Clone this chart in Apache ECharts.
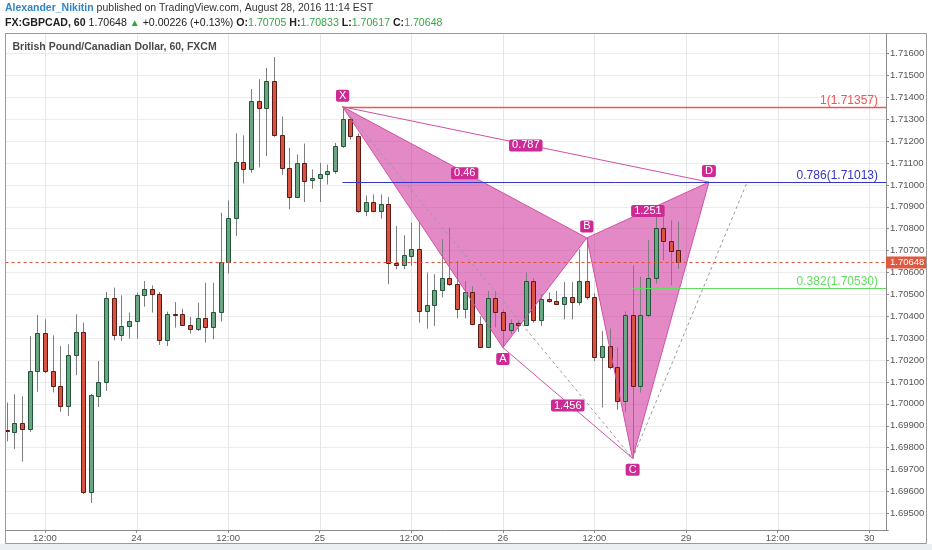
<!DOCTYPE html>
<html><head><meta charset="utf-8">
<script src="https://cdn.jsdelivr.net/npm/echarts@6/dist/echarts.min.js"></script>
<style>html,body{margin:0;padding:0;background:#fff;}#c{width:932px;height:550px;}</style>
</head><body><div id="c"></div>
<script>
// ---- data (hourly candles, GBPCAD 60) ----
const opens = [1.69882,1.69872,1.69912,1.69885,1.70148, 1.70322,1.70152,1.70082,1.69991,1.70221,
 1.70328,1.69596,1.70038,1.70102,1.70485, 1.70315,1.70354,1.70380,1.70497,1.70523,
 1.70500,1.70290,1.70412,1.70409,1.70358, 1.70341,1.70394,1.70353,1.70421,1.70648,
 1.70847,1.71106,1.71071,1.71385,1.71353, 1.71476,1.71226,1.71077,1.70944,1.71101,
 1.71022,1.71030,1.71051,1.71065,1.71180, 1.71302,1.71225,1.70880,1.70922,1.70880,
 1.70911,1.70642,1.70636,1.70675,1.70706, 1.70424,1.70450,1.70519,1.70577,1.70546,
 1.70435,1.70511,1.70367,1.70260,1.70482, 1.70420,1.70337,1.70371,1.70359,1.70561,
 1.70383,1.70481,1.70470,1.70455,1.70490, 1.70466,1.70561,1.70489,1.70216,1.70264,
 1.70169,1.70011,1.70405,1.70082,1.70405, 1.70576,1.70804,1.70743,1.70705];
const highs = [1.70006,1.70044,1.70034,1.70310,1.70406, 1.70386,1.70313,1.70264,1.70272,1.70409,
 1.70371,1.70045,1.70196,1.70511,1.70531, 1.70496,1.70417,1.70508,1.70561,1.70541,
 1.70511,1.70421,1.70465,1.70435,1.70397, 1.70462,1.70554,1.70554,1.70873,1.70929,
 1.71235,1.71226,1.71438,1.71483,1.71535, 1.71584,1.71312,1.71170,1.71139,1.71189,
 1.71071,1.71101,1.71093,1.71192,1.71357, 1.71312,1.71235,1.70952,1.70957,1.70957,
 1.70946,1.70812,1.70770,1.70828,1.70828, 1.70600,1.70592,1.70752,1.70805,1.70653,
 1.70561,1.70538,1.70401,1.70516,1.70516, 1.70430,1.70386,1.70379,1.70600,1.70573,
 1.70500,1.70508,1.70516,1.70557,1.70557, 1.70706,1.70758,1.70505,1.70333,1.70344,
 1.70257,1.70422,1.70633,1.70580,1.70748, 1.70854,1.70854,1.70839,1.70833];
const lows = [1.69829,1.69794,1.69736,1.69872,1.70055, 1.70140,1.70052,1.69964,1.69945,1.70131,
 1.69588,1.69547,1.69986,1.70059,1.70290, 1.70287,1.70298,1.70298,1.70444,1.70417,
 1.70269,1.70264,1.70348,1.70356,1.70321, 1.70333,1.70280,1.70295,1.70376,1.70595,
 1.70767,1.71007,1.71056,1.71080,1.71132, 1.71220,1.71046,1.70889,1.70940,1.70922,
 1.70983,1.70922,1.71002,1.71051,1.71170, 1.71207,1.70873,1.70858,1.70875,1.70846,
 1.70546,1.70615,1.70615,1.70630,1.70371, 1.70344,1.70356,1.70486,1.70538,1.70390,
 1.70390,1.70359,1.70260,1.70262,1.70349, 1.70257,1.70318,1.70329,1.70355,1.70371,
 1.70356,1.70462,1.70455,1.70386,1.70386, 1.70450,1.70477,1.70196,1.69984,1.70158,
 1.69973,1.69962,1.69751,1.70052,1.70395, 1.70550,1.70656,1.70542,1.70617];
const closes = [1.69876,1.69912,1.69885,1.70148,1.70322, 1.70152,1.70082,1.69991,1.70221,1.70328,
 1.69596,1.70040,1.70102,1.70485,1.70315, 1.70354,1.70380,1.70497,1.70523,1.70500,
 1.70290,1.70412,1.70408,1.70358,1.70341, 1.70394,1.70353,1.70421,1.70648,1.70847,
 1.71106,1.71071,1.71385,1.71353,1.71476, 1.71226,1.71077,1.70944,1.71101,1.71017,
 1.71033,1.71051,1.71065,1.71180,1.71302, 1.71225,1.70880,1.70922,1.70880,1.70914,
 1.70642,1.70636,1.70678,1.70706,1.70424, 1.70450,1.70519,1.70577,1.70546,1.70432,
 1.70511,1.70367,1.70260,1.70482,1.70420, 1.70337,1.70371,1.70359,1.70561,1.70383,
 1.70481,1.70470,1.70455,1.70490,1.70466, 1.70561,1.70489,1.70216,1.70264,1.70169,
 1.70011,1.70405,1.70082,1.70405,1.70576, 1.70804,1.70743,1.70699,1.70648];

// x axis: hourly slots, tick labels every 12 slots
const slotCount = 116;
const firstTickSlot = 5;
const tickStep = 12;
const tickLabels = ['12:00','24','12:00','25','12:00','26','12:00','29','12:00','30'];

// XABCD pattern (slot index, price)
const patternNames = ['X','A','B','C','D'];
const patternSlots = [44, 65, 76, 82, 92];
const patternPrices = [1.71357, 1.70257, 1.70758, 1.69751, 1.71013];
const ratioLabels = {XB:'0.46', XD:'0.787', AC:'1.456', BD:'1.251'};
const projEnd = [97, 1.71013];

// horizontal levels
const levelPrices = [1.71357, 1.71013, 1.70530];
const levelTexts = ['1(1.71357)', '0.786(1.71013)', '0.382(1.70530)'];
const levelStartSlots = [44, 44, 82];
const lastPrice = 1.70648;

// header
const author = 'Alexander_Nikitin';
const published = ' published on TradingView.com, August 28, 2016 11:14 EST';
const symbolTxt = 'FX:GBPCAD, 60';
const chgTxt = ' +0.00226 (+0.13%) ';
const ohlcLast = {O:'1.70705', H:'1.70833', L:'1.70617', C:'1.70648'};
const chartTitle = 'British Pound/Canadian Dollar, 60, FXCM';

// ---- styles ----
const levelColors = ['#f05454', '#3434c8', '#62dc62'];
const PAT = '#cc2a95';
const Y_OFF = -2.3;
const FONT = '"Liberation Sans", Arial, sans-serif';

const slots = [];
for (let i = 0; i < slotCount; i++) slots.push('s' + i);
function isTick(i) { return i >= firstTickSlot && (i - firstTickSlot) % tickStep === 0; }
function tickText(i) { return isTick(i) ? (tickLabels[(i - firstTickSlot) / tickStep] || '') : ''; }
const tickSlots = [];
for (let i = 0; i < slotCount; i++) if (isTick(i)) tickSlots.push(i);

const candleData = opens.map((o, i) => [i, o, closes[i], lows[i], highs[i]]);

function renderCandle(params, api) {
  const i = api.value(0), o = api.value(1), c = api.value(2), l = api.value(3), h = api.value(4);
  const pH = api.coord([i, h]), pL = api.coord([i, l]), pO = api.coord([i, o]), pC = api.coord([i, c]);
  const cx = Math.round(pH[0]) + 0.5;
  const up = c >= o;
  const yT = Math.round(Math.min(pO[1], pC[1])) + 0.5;
  let yB = Math.round(Math.max(pO[1], pC[1])) + 0.5;
  if (yB - yT < 1) yB = yT + 1;
  return { type: 'group', children: [
    { type: 'line', shape: { x1: cx, y1: pH[1], x2: cx, y2: pL[1] }, style: { stroke: '#7d7d80', lineWidth: 1 } },
    { type: 'rect', shape: { x: cx - 2, y: yT, width: 4, height: yB - yT },
      style: { fill: up ? '#6ba583' : '#d75442', stroke: up ? '#225437' : '#5b1a13', lineWidth: 1 } }
  ]};
}

function renderVGrid(params, api) {
  const cs = params.coordSys;
  const x = Math.round(api.coord([api.value(0), levelPrices[0]])[0]) + 0.5;
  return { type: 'line', shape: { x1: x, y1: cs.y, x2: x, y2: cs.y + cs.height }, style: { stroke: '#e6e6e6', lineWidth: 1 } };
}

function pts(api) { return patternSlots.map((s, k) => api.coord([s, patternPrices[k]])); }

function renderFill(params, api) {
  if (params.dataIndex !== 0) return null;
  const [X, A, B, C, D] = pts(api);
  const fill = 'rgba(204,40,149,0.55)';
  return { type: 'group', children: [
    { type: 'polygon', shape: { points: [X, A, B] }, style: { fill: fill } },
    { type: 'polygon', shape: { points: [B, C, D] }, style: { fill: fill } }
  ]};
}

function lbl(text, x, y) {
  return { type: 'text', x: x, y: y, style: { text: text, align: 'center', verticalAlign: 'middle',
    fill: '#fff', font: '11px ' + FONT, backgroundColor: PAT, padding: [1, 3, 0, 3], borderRadius: 2 } };
}
function mid(p, q) { return [(p[0] + q[0]) / 2, (p[1] + q[1]) / 2]; }

function renderPattern(params, api) {
  if (params.dataIndex !== 0) return null;
  const P = pts(api);
  const [X, A, B, C, D] = P;
  const E = api.coord(projEnd);
  const ls = { stroke: '#d24fa6', lineWidth: 1, fill: null };
  const ch = [
    { type: 'polyline', shape: { points: [X, A, B, X] }, style: ls },
    { type: 'polyline', shape: { points: [B, C, D, B] }, style: ls },
    { type: 'line', shape: { x1: X[0], y1: X[1], x2: D[0], y2: D[1] }, style: ls },
    { type: 'line', shape: { x1: A[0], y1: A[1], x2: C[0], y2: C[1] }, style: ls },
    { type: 'line', shape: { x1: X[0], y1: X[1], x2: C[0], y2: C[1] }, style: { stroke: '#9a9a9a', lineWidth: 1, lineDash: [3, 3] } },
    { type: 'line', shape: { x1: C[0], y1: C[1], x2: E[0], y2: E[1] }, style: { stroke: '#9a9a9a', lineWidth: 1, lineDash: [3, 3] } }
  ];
  const m1 = mid(X, B), m2 = mid(X, D), m3 = mid(A, C), m4 = mid(B, D);
  ch.push(lbl(ratioLabels.XB, m1[0], m1[1] + 1));
  ch.push(lbl(ratioLabels.XD, m2[0], m2[1] + 1));
  ch.push(lbl(ratioLabels.AC, m3[0], m3[1] + 2.5));
  ch.push(lbl(ratioLabels.BD, m4[0], m4[1] + 1));
  const dy = [-11, 11.5, -11.5, 11.5, -11];
  P.forEach((p, k) => ch.push(lbl(patternNames[k], p[0], p[1] + dy[k])));
  return { type: 'group', children: ch };
}

function renderLevels(params, api) {
  if (params.dataIndex !== 0) return null;
  const cs = params.coordSys;
  const xr = cs.x + cs.width + Y_OFF;
  const ch = [];
  levelPrices.forEach((p, k) => {
    const s = api.coord([levelStartSlots[k], p]);
    const y = Math.round(s[1]) + 0.5;
    ch.push({ type: 'line', shape: { x1: s[0], y1: y, x2: xr, y2: y }, style: { stroke: levelColors[k], lineWidth: k === 0 ? 1.5 : 1 } });
    ch.push({ type: 'text', x: xr - 8, y: y - 1, style: { text: levelTexts[k], align: 'right', verticalAlign: 'bottom', fill: levelColors[k], font: '12px ' + FONT } });
  });
  // last price dashed line + axis tag
  const yl = Math.round(api.coord([0, lastPrice])[1]) + 0.5;
  ch.push({ type: 'line', shape: { x1: cs.x + 2.5, y1: yl, x2: xr, y2: yl }, style: { stroke: '#e0533a', lineWidth: 1, lineDash: [3, 3] } });
  ch.push({ type: 'rect', shape: { x: xr, y: yl - 6, width: 41, height: 12 }, style: { fill: '#e0583f' } });
  ch.push({ type: 'text', x: xr + 4, y: yl, style: { text: lastPrice.toFixed(5), align: 'left', verticalAlign: 'middle', fill: '#fff', font: '9.5px ' + FONT } });
  return { type: 'group', children: ch };
}

const chart = echarts.init(document.getElementById('c'), null, { renderer: 'canvas' });
chart.setOption({
  backgroundColor: '#fff',
  animation: false,
  graphic: [
    { type: 'rect', shape: { x: 0, y: 544, width: 932, height: 6 }, style: { fill: '#eceff2' }, z: 100 },
    { type: 'rect', shape: { x: 0, y: 33, width: 5, height: 511 }, style: { fill: '#fff' }, z: 99 },
    { type: 'rect', shape: { x: 5.5, y: 33.5, width: 921, height: 510 }, style: { fill: null, stroke: '#9a9a9a', lineWidth: 1 }, z: 100 },
    { type: 'text', x: 5, y: 8.5, z: 100, style: { text: '{a|' + author + '}{b|' + published + '}', verticalAlign: 'middle',
      rich: { a: { fontSize: 10.5, fontWeight: 'bold', fill: '#2f87c8', fontFamily: FONT }, b: { fontSize: 10.5, fill: '#333', fontFamily: FONT } } } },
    { type: 'text', x: 5, y: 23.5, z: 100, style: {
      text: '{s|' + symbolTxt + '}{n| ' + lastPrice.toFixed(5) + ' }{up|▲}{n|' + chgTxt + '}{k|O:}{g|' + ohlcLast.O + '}{k| H:}{g|' + ohlcLast.H + '}{k| L:}{g|' + ohlcLast.L + '}{k| C:}{g|' + ohlcLast.C + '}',
      verticalAlign: 'middle',
      rich: {
        s: { fontSize: 10.6, fontWeight: 'bold', fill: '#222', fontFamily: FONT },
        n: { fontSize: 10.6, fill: '#222', fontFamily: FONT },
        up: { fontSize: 10, fill: '#2fa83a', fontFamily: FONT },
        k: { fontSize: 10.6, fontWeight: 'bold', fill: '#222', fontFamily: FONT },
        g: { fontSize: 10.6, fill: '#35a845', fontFamily: FONT }
      } } },
    { type: 'text', x: 12.5, y: 47, z: 100, style: { text: chartTitle, verticalAlign: 'middle', fill: '#4a4a4a', font: 'bold 10.5px ' + FONT } }
  ],
  grid: { left: 3, top: 33.3, width: 885.3, height: 496.7, outerBoundsMode: 'none', containLabel: false },
  xAxis: {
    type: 'category', data: slots, boundaryGap: true,
    axisLine: { lineStyle: { color: '#8a8a8a' } },
    axisTick: { show: true, alignWithLabel: true, length: 3, interval: (i) => isTick(i), lineStyle: { color: '#8a8a8a' } },
    axisLabel: { interval: (i) => isTick(i), formatter: (v, i) => tickText(i), color: '#555', fontSize: 9.5, fontFamily: FONT, margin: 3 },
    splitLine: { show: false }
  },
  yAxis: {
    type: 'value', position: 'right', offset: Y_OFF, scale: true,
    min: 1.694238, max: 1.716927, splitNumber: 22,
    axisLine: { show: true, lineStyle: { color: '#8a8a8a' } },
    axisTick: { show: true, length: 3, lineStyle: { color: '#8a8a8a' } },
    axisLabel: { formatter: (v) => v.toFixed(5), color: '#555', fontSize: 9.5, fontFamily: FONT, margin: 4, showMinLabel: false, showMaxLabel: false },
    splitLine: { show: true, lineStyle: { color: '#ececec' } }
  },
  series: [
    { type: 'custom', name: 'vgrid', z: 1, data: tickSlots.map(i => [i]), encode: { x: 0 }, renderItem: renderVGrid, silent: true },
    { type: 'custom', name: 'fill', z: 2, data: [[patternSlots[0], patternPrices[0]]], encode: { x: 0, y: 1 }, renderItem: renderFill, clip: false, silent: true },
    { type: 'custom', name: 'GBPCAD', z: 3, data: candleData, encode: { x: 0, y: [1, 2, 3, 4] }, renderItem: renderCandle, clip: true },
    { type: 'custom', name: 'pattern', z: 4, data: [[patternSlots[0], patternPrices[0]]], encode: { x: 0, y: 1 }, renderItem: renderPattern, clip: false, silent: true },
    { type: 'custom', name: 'levels', z: 5, data: [[0, lastPrice]], encode: { x: 0, y: 1 }, renderItem: renderLevels, clip: false, silent: true }
  ]
});
</script>
</body></html>
